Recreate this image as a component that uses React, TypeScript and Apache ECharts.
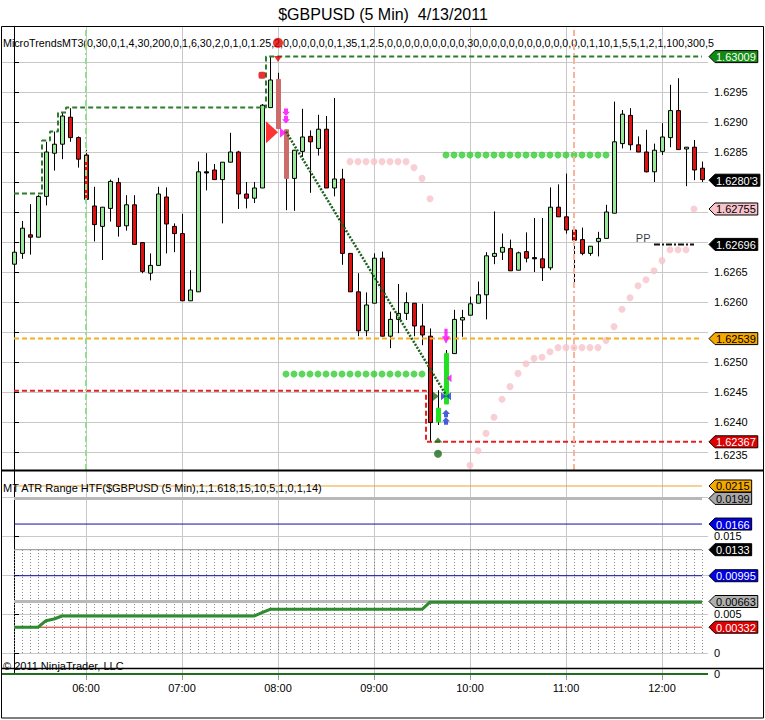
import React, { useEffect, useRef } from 'react';
import * as echarts from 'echarts';

const FONT = '"Liberation Sans", Arial, sans-serif';

// ---------- axis ticks / labels ----------
const hourTicks = [9, 21, 33, 45, 57, 69, 81];
const hourLabels = ['06:00', '07:00', '08:00', '09:00', '10:00', '11:00', '12:00'];
const priceTicks = [1.6235, 1.624, 1.6245, 1.625, 1.6255, 1.626, 1.6265, 1.627, 1.6275, 1.628, 1.6285, 1.629, 1.6295, 1.63];
const priceLabels = [1.6235, 1.624, 1.6245, 1.625, 1.626, 1.6265, 1.6285, 1.629, 1.6295];
const atrTicks = [0, 0.005, 0.01, 0.015, 0.02];
const atrLabels = [0, 0.005, 0.015];

// ---------- candles (5 min bars 05:15 .. 12:25) ----------
const opens = [
  1.62663, 1.62681, 1.62712, 1.62708, 1.62776, 1.62848, 1.62863, 1.62908, 1.62874, 1.62845,
  1.62760, 1.62726, 1.62756, 1.62799, 1.62727, 1.62762, 1.62699, 1.62648, 1.62661, 1.62775,
  1.62726, 1.62714, 1.62602, 1.62617, 1.62815, 1.62820, 1.62804, 1.62833, 1.62850, 1.62780,
  1.62773, 1.62790, 1.62924, 1.62971, 1.62887, 1.62806, 1.62851, 1.62876, 1.62856, 1.62888,
  1.62790, 1.62805, 1.62681, 1.62617, 1.62552, 1.62598, 1.62673, 1.62543, 1.62571, 1.62581,
  1.62598, 1.62560, 1.62543, 1.62400, 1.62430, 1.62514, 1.62570, 1.62578, 1.62598, 1.62612,
  1.62676, 1.62683, 1.62689, 1.62653, 1.62684, 1.62672, 1.62672, 1.62657, 1.62758, 1.62742,
  1.62720, 1.62704, 1.62681, 1.62701, 1.62706, 1.62748, 1.62864, 1.62911, 1.62862, 1.62850,
  1.62817, 1.62851, 1.62874, 1.62919, 1.62855, 1.62858, 1.62823,
];
const closes = [
  1.62683, 1.62723, 1.62708, 1.62776, 1.62850, 1.62863, 1.62910, 1.62874, 1.62838, 1.62771,
  1.62729, 1.62758, 1.62801, 1.62726, 1.62762, 1.62696, 1.62651, 1.62661, 1.62780, 1.62730,
  1.62714, 1.62602, 1.62620, 1.62817, 1.62817, 1.62804, 1.62833, 1.62850, 1.62780, 1.62773,
  1.62790, 1.62928, 1.62970, 1.62889, 1.62806, 1.62853, 1.62875, 1.62867, 1.62888, 1.62790,
  1.62805, 1.62681, 1.62617, 1.62552, 1.62595, 1.62673, 1.62543, 1.62571, 1.62581, 1.62599,
  1.62560, 1.62545, 1.62399, 1.62423, 1.62514, 1.62571, 1.62574, 1.62597, 1.62612, 1.62677,
  1.62681, 1.62691, 1.62652, 1.62682, 1.62673, 1.62674, 1.62657, 1.62758, 1.62742, 1.62720,
  1.62703, 1.62681, 1.62693, 1.62706, 1.62750, 1.62867, 1.62913, 1.62862, 1.62850, 1.62817,
  1.62853, 1.62875, 1.62919, 1.62854, 1.62858, 1.62820, 1.62804,
];
const lows = [
  1.62663, 1.62672, 1.62679, 1.62708, 1.62761, 1.62819, 1.62838, 1.62867, 1.62824, 1.62771,
  1.62701, 1.62670, 1.62734, 1.62709, 1.62719, 1.62696, 1.62648, 1.62636, 1.62661, 1.62681,
  1.62683, 1.62602, 1.62602, 1.62617, 1.62786, 1.62804, 1.62731, 1.62833, 1.62755, 1.62756,
  1.62765, 1.62790, 1.62924, 1.62889, 1.62753, 1.62752, 1.62842, 1.62782, 1.62844, 1.62790,
  1.62776, 1.62662, 1.62617, 1.62543, 1.62543, 1.62598, 1.62543, 1.62523, 1.62548, 1.62570,
  1.62543, 1.62528, 1.62367, 1.62395, 1.62430, 1.62514, 1.62542, 1.62578, 1.62598, 1.62571,
  1.62663, 1.62670, 1.62652, 1.62653, 1.62666, 1.62650, 1.62635, 1.62653, 1.62742, 1.62714,
  1.62627, 1.62678, 1.62677, 1.62676, 1.62706, 1.62748, 1.62856, 1.62853, 1.62850, 1.62816,
  1.62800, 1.62845, 1.62858, 1.62854, 1.62793, 1.62803, 1.62800,
];
const highs = [
  1.62690, 1.62735, 1.62763, 1.62778, 1.62867, 1.62884, 1.62916, 1.62923, 1.62876, 1.62853,
  1.62792, 1.62758, 1.62804, 1.62807, 1.62778, 1.62778, 1.62699, 1.62681, 1.62792, 1.62791,
  1.62731, 1.62747, 1.62653, 1.62834, 1.62848, 1.62830, 1.62833, 1.62882, 1.62852, 1.62800,
  1.62800, 1.62930, 1.63009, 1.62982, 1.62887, 1.62853, 1.62922, 1.62886, 1.62912, 1.62910,
  1.62940, 1.62822, 1.62681, 1.62648, 1.62616, 1.62681, 1.62684, 1.62584, 1.62630, 1.62616,
  1.62598, 1.62597, 1.62556, 1.62453, 1.62520, 1.62587, 1.62587, 1.62609, 1.62634, 1.62683,
  1.62751, 1.62714, 1.62704, 1.62684, 1.62716, 1.62740, 1.62740, 1.62791, 1.62796, 1.62814,
  1.62726, 1.62724, 1.62693, 1.62717, 1.62762, 1.62934, 1.62920, 1.62923, 1.62876, 1.62887,
  1.62864, 1.62898, 1.62962, 1.62973, 1.62858, 1.62870, 1.62834,
];

// ---------- MicroTrends overlays (per bar) ----------
const resistance = [
  1.62781, 1.62781, 1.62781, 1.62781, 1.62869, 1.62884, 1.62916, 1.62924, 1.62924, 1.62924,
  1.62924, 1.62924, 1.62924, 1.62924, 1.62924, 1.62924, 1.62924, 1.62924, 1.62924, 1.62924,
  1.62924, 1.62924, 1.62924, 1.62924, 1.62924, 1.62924, 1.62924, 1.62924, 1.62924, 1.62924,
  1.62924, 1.62924, 1.63009, 1.63009, 1.63009, 1.63009, 1.63009, 1.63009, 1.63009, 1.63009,
  1.63009, 1.63009, 1.63009, 1.63009, 1.63009, 1.63009, 1.63009, 1.63009, 1.63009, 1.63009,
  1.63009, 1.63009, 1.63009, 1.63009, 1.63009, 1.63009, 1.63009, 1.63009, 1.63009, 1.63009,
  1.63009, 1.63009, 1.63009, 1.63009, 1.63009, 1.63009, 1.63009, 1.63009, 1.63009, 1.63009,
  1.63009, 1.63009, 1.63009, 1.63009, 1.63009, 1.63009, 1.63009, 1.63009, 1.63009, 1.63009,
  1.63009, 1.63009, 1.63009, 1.63009, 1.63009, 1.63009, 1.63009,
];
const support = [
  1.62452, 1.62452, 1.62452, 1.62452, 1.62452, 1.62452, 1.62452, 1.62452, 1.62452, 1.62452,
  1.62452, 1.62452, 1.62452, 1.62452, 1.62452, 1.62452, 1.62452, 1.62452, 1.62452, 1.62452,
  1.62452, 1.62452, 1.62452, 1.62452, 1.62452, 1.62452, 1.62452, 1.62452, 1.62452, 1.62452,
  1.62452, 1.62452, 1.62452, 1.62452, 1.62452, 1.62452, 1.62452, 1.62452, 1.62452, 1.62452,
  1.62452, 1.62452, 1.62452, 1.62452, 1.62452, 1.62452, 1.62452, 1.62452, 1.62452, 1.62452,
  1.62452, 1.62452, 1.62367, 1.62367, 1.62367, 1.62367, 1.62367, 1.62367, 1.62367, 1.62367,
  1.62367, 1.62367, 1.62367, 1.62367, 1.62367, 1.62367, 1.62367, 1.62367, 1.62367, 1.62367,
  1.62367, 1.62367, 1.62367, 1.62367, 1.62367, 1.62367, 1.62367, 1.62367, 1.62367, 1.62367,
  1.62367, 1.62367, 1.62367, 1.62367, 1.62367, 1.62367, 1.62367,
];
const midLevel = 1.62539;
const trendBars = [34, 54];
const trendPrices = [1.62884, 1.62445];
const ppBars = [80, 85];
const ppLevel = 1.62696;
const ppText = 'PP';

const greenDotsAStart = 34;
const greenDotsA = [
  1.6248, 1.6248, 1.6248, 1.6248, 1.6248, 1.6248, 1.6248, 1.6248, 1.6248,
  1.6248, 1.6248, 1.6248, 1.6248, 1.6248, 1.6248, 1.6248, 1.6248, 1.6248,
];
const greenDotsBStart = 54;
const greenDotsB = [
  1.62845, 1.62845, 1.62845, 1.62845, 1.62845, 1.62845, 1.62845, 1.62845, 1.62845, 1.62845,
  1.62845, 1.62845, 1.62845, 1.62845, 1.62845, 1.62845, 1.62845, 1.62845, 1.62845, 1.62845,
  1.62845,
];
const stopHighStart = 42;
const stopHigh = [1.62834, 1.62834, 1.62834, 1.62834, 1.62834, 1.62834, 1.62834, 1.62834, 1.62824, 1.62806, 1.62772];
const stopLowStart = 57;
const stopLow = [
  1.62328, 1.62352, 1.62381, 1.62408, 1.62438, 1.62459, 1.62481, 1.62497, 1.62506, 1.62508,
  1.62517, 1.62524, 1.62524, 1.62524, 1.62524, 1.62524, 1.62524, 1.62536, 1.62559, 1.62588,
  1.62607, 1.62627, 1.62637, 1.62652, 1.62669, 1.62687, 1.62687, 1.62687, 1.62755,
];

const sessionLineBars = [9, 70];

const markerBars = [33, 33, 31, 32, 34, 34, 54, 54, 53, 54, 54, 53, 53];
const markerPrices = [1.63032, 1.63005, 1.62978, 1.62883, 1.6291, 1.62882, 1.62543, 1.62473, 1.62443, 1.62443, 1.62408, 1.6237, 1.62347];
const markerKinds = ['redDot', 'redDown', 'redSquare', 'redBigRight', 'magDblDown', 'magRight', 'magDown', 'magLeft', 'dgRight', 'blueTie', 'blueDblUp', 'dgUp', 'dgDot'];

// ---------- lower panel (MT ATR Range HTF) ----------
const atrLevelValues = [0.0215, 0.0199, 0.0166, 0.0133, 0.00995, 0.00663, 0.00332];
const atrBoxTop = 0.0133;
const atrValues = [
  0.00332, 0.00332, 0.00332, 0.00332, 0.00416, 0.00438, 0.00476, 0.00476, 0.00476, 0.00476,
  0.00476, 0.00476, 0.00476, 0.00476, 0.00476, 0.00476, 0.00476, 0.00476, 0.00476, 0.00476,
  0.00476, 0.00476, 0.00476, 0.00476, 0.00476, 0.00476, 0.00476, 0.00476, 0.00476, 0.00476,
  0.00476, 0.0052, 0.00562, 0.00562, 0.00562, 0.00562, 0.00562, 0.00562, 0.00562, 0.00562,
  0.00562, 0.00562, 0.00562, 0.00562, 0.00562, 0.00562, 0.00562, 0.00562, 0.00562, 0.00562,
  0.00562, 0.00562, 0.00655, 0.00655, 0.00655, 0.00655, 0.00655, 0.00655, 0.00655, 0.00655,
  0.00655, 0.00655, 0.00655, 0.00655, 0.00655, 0.00655, 0.00655, 0.00655, 0.00655, 0.00655,
  0.00655, 0.00655, 0.00655, 0.00655, 0.00655, 0.00655, 0.00655, 0.00655, 0.00655, 0.00655,
  0.00655, 0.00655, 0.00655, 0.00655, 0.00655, 0.00655, 0.00655,
];

const mainTagValues = [1.63009, 1.62803, 1.62755, 1.62696, 1.62539, 1.62367];
const mainTagTexts = ['1.63009', "1.6280'3", '1.62755', '1.62696', '1.62539', '1.62367'];
const atrTagTexts = ['0.0215', '0.0199', '0.0166', '0.0133', '0.00995', '0.00663', '0.00332'];

// ---------- styles ----------
const UP = '#98e898';
const DOWN = '#e01010';
const specialBarColors: Record<number, string> = { 33: '#cd6a6a', 34: '#cd6a6a', 53: '#22e022', 54: '#22e022' };
const mainTagStyles = [
  ['#128a12', '#fff'], ['#000', '#fff'], ['#f8c4cc', '#000'], ['#000', '#fff'], ['#f5a800', '#000'], ['#e00000', '#fff'],
];
const atrLevelStyles = [
  ['#f0a030', 1], ['#b8b8b8', 3], ['#1010a0', 1], ['#8c8c8c', 1], ['#1010a0', 1], ['#b8b8b8', 3], ['#d02020', 1],
];
const atrTagStyles = [
  ['#f5a800', '#000'], ['#a8a8a8', '#000'], ['#0000e0', '#fff'], ['#000', '#fff'], ['#0000e0', '#fff'], ['#b0b0b0', '#000'], ['#e00000', '#fff'],
];
const markerStyles: Record<string, any> = {
  redDot: { symbol: 'circle', symbolSize: 10, color: '#e00000' },
  redDown: { symbol: 'triangle', symbolSize: [8, 6], symbolRotate: 180, color: '#e00000' },
  redSquare: { symbol: 'roundRect', symbolSize: 7, color: '#e00000' },
  redBigRight: { symbol: 'triangle', symbolSize: [22, 12], symbolRotate: -90, symbolOffset: [2, 0], color: '#ff0000' },
  magDblDown: { symbol: 'path://M2,0H6V3H8L4,7L0,3H2Z M2,7H6V10H8L4,14L0,10H2Z', symbolSize: [8, 15], color: '#ff00ff' },
  magRight: { symbol: 'triangle', symbolSize: [10, 6], symbolRotate: -90, symbolOffset: [-3, 0], color: '#ff00ff' },
  magDown: { symbol: 'path://M3,0H7V7H10L5,14L0,7H3Z', symbolSize: [8, 15], color: '#ff00ff' },
  magLeft: { symbol: 'triangle', symbolSize: [8, 5], symbolRotate: 90, symbolOffset: [3, 0], color: '#ff00ff' },
  dgRight: { symbol: 'triangle', symbolSize: [9, 6], symbolRotate: -90, symbolOffset: [-2, 0], color: '#1a6b1a' },
  blueTie: { symbol: 'path://M0,0L5,4L0,8Z M10,0L5,4L10,8Z', symbolSize: [10, 8], color: '#1a3ad0' },
  blueDblUp: { symbol: 'path://M4,0L8,4H6V7H2V4H0Z M4,7L8,11H6V14H2V11H0Z', symbolSize: [8, 15], color: '#1a3ad0' },
  dgUp: { symbol: 'triangle', symbolSize: [9, 5], color: '#1a6b1a' },
  dgDot: { symbol: 'circle', symbolSize: 8, color: '#1a6b1a' },
};

const X_MIN = -1.5;
const X_MAX = 86.75;
const GRID_LINE = '#c8c8c8';

function textWidth(s: string) {
  let w = 0;
  for (const ch of s) w += ch === '.' ? 3.06 : ch === "'" ? 2.1 : 6.12;
  return w;
}

function makeTag(y: number, text: string, bg: string, fg: string) {
  const x0 = 709;
  const x1 = 715;
  const w = textWidth(text) + 3;
  return [
    {
      type: 'polygon',
      z: 50,
      shape: { points: [[x0, y], [x1, y - 6], [x1 + w, y - 6], [x1 + w, y + 6], [x1, y + 6]] },
      style: { fill: bg, stroke: '#000', lineWidth: 1 },
    },
    {
      type: 'text',
      z: 51,
      x: x1 + 1,
      y: y + 0.5,
      style: { text, fill: fg, font: `11px ${FONT}`, align: 'left', verticalAlign: 'middle' },
    },
  ];
}

export default function App() {
  const ref = useRef<HTMLDivElement>(null);

  useEffect(() => {
    if (!ref.current) return;
    const chart = echarts.init(ref.current, null, { renderer: 'svg' });

    const idx = opens.map((_, i) => i);
    const candleData = idx.map((i) => [i, opens[i], closes[i], lows[i], highs[i]]);

    const xAxisBase = (gridIndex: number) => ({
      type: 'value',
      gridIndex,
      min: X_MIN,
      max: X_MAX,
      axisLine: { show: false },
      axisTick: { show: false, customValues: hourTicks },
      axisLabel: { show: false },
      splitLine: { show: true, lineStyle: { color: GRID_LINE, width: 1 } },
    });

    const candleSeries = {
      type: 'custom',
      name: 'candles',
      xAxisIndex: 0,
      yAxisIndex: 0,
      z: 3,
      encode: { x: 0, y: [1, 2, 3, 4] },
      data: candleData,
      renderItem: (params: any, api: any) => {
        const i = api.value(0);
        const o = api.value(1);
        const c = api.value(2);
        const l = api.value(3);
        const h = api.value(4);
        const pHi = api.coord([i, h]);
        const pLo = api.coord([i, l]);
        const pTop = api.coord([i, Math.max(o, c)]);
        const pBot = api.coord([i, Math.min(o, c)]);
        const cx = Math.round(pHi[0]);
        const special = specialBarColors[i];
        const doji = Math.abs(c - o) < 0.000025;
        const fill = special || (doji ? '#000' : c >= o ? UP : DOWN);
        const stroke = special ? special : '#000';
        let top = pTop[1];
        let hgt = pBot[1] - pTop[1];
        if (hgt < 1) {
          top -= 0.5;
          hgt = 1;
        }
        return {
          type: 'group',
          children: [
            { type: 'line', shape: { x1: cx + 0.5, y1: pHi[1], x2: cx + 0.5, y2: pLo[1] }, style: { stroke: '#000', lineWidth: 1 } },
            { type: 'rect', shape: { x: cx - 1.5, y: top, width: 4, height: hgt }, style: { fill, stroke, lineWidth: 1 } },
          ],
        };
      },
    };

    const dotSeries = (start: number, vals: number[], color: string, z: number) => ({
      type: 'scatter',
      xAxisIndex: 0,
      yAxisIndex: 0,
      symbol: 'circle',
      symbolSize: 7,
      z,
      itemStyle: { color },
      data: vals.map((v, k) => [start + k, v]),
    });

    const markerData = markerBars.map((b, k) => {
      const s = markerStyles[markerKinds[k]];
      return {
        value: [b, markerPrices[k]],
        symbol: s.symbol,
        symbolSize: s.symbolSize,
        symbolRotate: s.symbolRotate || 0,
        symbolOffset: s.symbolOffset || [0, 0],
        itemStyle: { color: s.color },
      };
    });

    const atrLevelSeries = atrLevelValues.map((v, k) => ({
      type: 'line',
      xAxisIndex: 1,
      yAxisIndex: 1,
      symbol: 'none',
      z: 3,
      lineStyle: { color: atrLevelStyles[k][0], width: atrLevelStyles[k][1] },
      data: [[0, v], [idx.length - 1, v]],
    }));

    const option: any = {
      animation: false,
      backgroundColor: '#fff',
      textStyle: { fontFamily: FONT },
      grid: [
        { left: 2, right: 57, top: 27, height: 443 },
        { left: 2, right: 57, top: 471, height: 197 },
        { left: 2, right: 57, top: 668, height: 6 },
      ],
      xAxis: [
        xAxisBase(0),
        xAxisBase(1),
        {
          ...xAxisBase(2),
          axisTick: { show: true, customValues: hourTicks, length: 6, lineStyle: { color: '#999' } },
          axisLabel: {
            show: true,
            customValues: hourTicks,
            margin: 8,
            fontSize: 11,
            color: '#000',
            fontFamily: FONT,
            formatter: (v: number) => hourLabels[hourTicks.indexOf(Math.round(v))] || '',
          },
        },
      ],
      yAxis: [
        {
          type: 'value',
          gridIndex: 0,
          position: 'right',
          min: 1.6232,
          max: 1.6305833,
          axisLine: { show: true, lineStyle: { color: '#000', width: 1 } },
          axisTick: { show: true, length: 5, customValues: priceTicks, lineStyle: { color: '#000' } },
          axisLabel: {
            show: true,
            customValues: priceLabels,
            margin: 6,
            fontSize: 11,
            color: '#000',
            fontFamily: FONT,
            formatter: (v: number) => (v < priceLabels[1] ? `{low|${v.toFixed(4)}}` : v.toFixed(4)),
            rich: { low: { fontSize: 11, color: '#000', fontFamily: FONT, padding: [7, 0, 0, 0] } },
          },
          splitLine: { show: true, lineStyle: { color: GRID_LINE, width: 1 } },
        },
        {
          type: 'value',
          gridIndex: 1,
          position: 'right',
          min: -0.00193,
          max: 0.02343,
          axisLine: { show: true, lineStyle: { color: '#000', width: 1 } },
          axisTick: { show: true, length: 5, customValues: atrTicks, lineStyle: { color: '#000' } },
          axisLabel: {
            show: true,
            customValues: atrLabels,
            margin: 6,
            fontSize: 11,
            color: '#000',
            fontFamily: FONT,
            formatter: (v: number) => (Math.abs(v) < 1e-9 ? '0' : String(+v.toFixed(3))),
          },
          splitLine: { show: true, lineStyle: { color: GRID_LINE, width: 1 } },
        },
        {
          type: 'value',
          gridIndex: 2,
          position: 'right',
          min: 0,
          max: 1,
          axisLine: { show: true, lineStyle: { color: '#000', width: 1 } },
          axisTick: { show: true, length: 5, customValues: [0], lineStyle: { color: '#000' } },
          axisLabel: { show: true, customValues: [0], margin: 6, fontSize: 11, color: '#000', fontFamily: FONT, formatter: () => '0' },
          splitLine: { show: false },
        },
      ],
      series: [
        {
          type: 'line',
          xAxisIndex: 0,
          yAxisIndex: 0,
          symbol: 'none',
          z: 1,
          data: [],
          markLine: {
            silent: true,
            symbol: 'none',
            label: { show: false },
            data: sessionLineBars.map((b, k) => ({
              xAxis: b,
              lineStyle: { color: k === 0 ? '#8fe08f' : '#f8b49c', width: 2, type: [6, 3, 2, 3] },
            })),
          },
        },
        dotSeries(stopHighStart, stopHigh, '#f8c3cc', 2),
        dotSeries(stopLowStart, stopLow, '#f8c3cc', 2),
        candleSeries,
        dotSeries(greenDotsAStart, greenDotsA, '#33cc33', 4),
        dotSeries(greenDotsBStart, greenDotsB, '#33cc33', 4),
        {
          type: 'line',
          xAxisIndex: 0,
          yAxisIndex: 0,
          symbol: 'none',
          step: 'middle',
          z: 4,
          lineStyle: { color: '#2b7d2b', width: 2, type: [5, 3] },
          data: resistance.map((v, i) => [i, v]),
        },
        {
          type: 'line',
          xAxisIndex: 0,
          yAxisIndex: 0,
          symbol: 'none',
          step: 'middle',
          z: 4,
          lineStyle: { color: '#e82020', width: 2, type: [5, 3] },
          data: support.map((v, i) => [i, v]),
        },
        {
          type: 'line',
          xAxisIndex: 0,
          yAxisIndex: 0,
          symbol: 'none',
          z: 4,
          lineStyle: { color: '#f5b020', width: 2, type: [5, 3] },
          data: [[0, midLevel], [idx.length - 1, midLevel]],
        },
        {
          type: 'line',
          xAxisIndex: 0,
          yAxisIndex: 0,
          symbol: 'none',
          z: 5,
          lineStyle: { color: '#1b5e1b', width: 2.5, type: [2, 1.5] },
          data: trendBars.map((b, k) => [b, trendPrices[k]]),
        },
        {
          type: 'line',
          xAxisIndex: 0,
          yAxisIndex: 0,
          symbol: 'none',
          z: 5,
          lineStyle: { color: '#111', width: 2, type: [6, 2, 2, 2] },
          data: ppBars.map((b) => [b, ppLevel]),
        },
        {
          type: 'scatter',
          xAxisIndex: 0,
          yAxisIndex: 0,
          symbol: 'circle',
          symbolSize: 1,
          z: 5,
          itemStyle: { color: 'rgba(0,0,0,0)' },
          label: {
            show: true,
            formatter: ppText,
            position: 'left',
            distance: 3,
            offset: [0, -6],
            fontSize: 11,
            color: '#000',
            fontFamily: FONT,
          },
          data: [[ppBars[0], ppLevel]],
        },
        {
          type: 'scatter',
          xAxisIndex: 0,
          yAxisIndex: 0,
          z: 6,
          data: markerData,
        },
        {
          type: 'custom',
          xAxisIndex: 1,
          yAxisIndex: 1,
          z: 2,
          data: idx.map((i) => [i, atrBoxTop]),
          renderItem: (params: any, api: any) => {
            const i = api.value(0);
            const p0 = api.coord([i, 0]);
            const p1 = api.coord([i, api.value(1)]);
            const x = Math.round(p0[0]) + 0.5;
            return {
              type: 'line',
              shape: { x1: x, y1: p0[1], x2: x, y2: p1[1] },
              style: { stroke: '#8a8a8a', lineWidth: 1, lineDash: [1, 2] },
            };
          },
        },
        ...atrLevelSeries,
        {
          type: 'line',
          xAxisIndex: 1,
          yAxisIndex: 1,
          symbol: 'none',
          z: 5,
          lineStyle: { color: '#2e8b2e', width: 3 },
          data: atrValues.map((v, i) => [i, v]),
        },
        {
          type: 'line',
          xAxisIndex: 2,
          yAxisIndex: 2,
          symbol: 'none',
          lineStyle: { width: 0, opacity: 0 },
          data: [[0, 0], [idx.length - 1, 0]],
          markLine: {
            silent: true,
            symbol: 'none',
            label: { show: false },
            data: [{ yAxis: 0, lineStyle: { color: '#1e6e1e', width: 2, type: 'solid' } }],
          },
        },
      ],
    };

    chart.setOption(option);

    const tags: any[] = [];
    mainTagValues.forEach((v, k) => {
      const y = chart.convertToPixel({ yAxisIndex: 0 } as any, v) as number;
      tags.push(...makeTag(y, mainTagTexts[k], mainTagStyles[k][0], mainTagStyles[k][1]));
    });
    atrLevelValues.forEach((v, k) => {
      const y = chart.convertToPixel({ yAxisIndex: 1 } as any, v) as number;
      tags.push(...makeTag(y, atrTagTexts[k], atrTagStyles[k][0] as string, atrTagStyles[k][1] as string));
    });

    const staticGraphics: any[] = [
      {
        type: 'text',
        x: 383,
        y: 14,
        z: 60,
        style: { text: '$GBPUSD (5 Min)  4/13/2011', font: `16px ${FONT}`, fill: '#000', align: 'center', verticalAlign: 'middle' },
      },
      {
        type: 'text',
        x: 3,
        y: 43,
        z: 1,
        style: {
          text: 'MicroTrendsMT3(0,30,0,1,4,30,200,0,1,6,30,2,0,1,0,1.25,2,0,0,0,0,0,0,1,35,1,2.5,0,0,0,0,0,0,0,0,0,30,0,0,0,0,0,0,0,0,0,0,0,0,1,10,1,5,5,1,2,1,100,300,5',
          font: `10.7px ${FONT}`,
          fill: '#000',
          align: 'left',
          verticalAlign: 'middle',
          width: 714,
          overflow: 'truncate',
          ellipsis: '',
        },
      },
      {
        type: 'text',
        x: 3,
        y: 488,
        z: 60,
        style: { text: 'MT ATR Range HTF($GBPUSD (5 Min),1,1.618,15,10,5,1,0,1,14)', font: `11px ${FONT}`, fill: '#000', align: 'left', verticalAlign: 'middle' },
      },
      {
        type: 'text',
        x: 3,
        y: 666,
        z: 60,
        style: { text: '© 2011 NinjaTrader, LLC', font: `11px ${FONT}`, fill: '#000', align: 'left', verticalAlign: 'middle' },
      },
      {
        type: 'rect',
        z: 70,
        shape: { x: 1.5, y: 26.5, width: 762, height: 691.5 },
        style: { fill: 'none', stroke: '#000', lineWidth: 1 },
      },
      { type: 'line', z: 70, shape: { x1: 1, y1: 470.5, x2: 764, y2: 470.5 }, style: { stroke: '#000', lineWidth: 2 } },
      { type: 'line', z: 70, shape: { x1: 1, y1: 668.5, x2: 764, y2: 668.5 }, style: { stroke: '#000', lineWidth: 1.5 } },
    ];

    chart.setOption({ graphic: [...staticGraphics, ...tags] });

    return () => chart.dispose();
  }, []);

  return <div ref={ref} style={{ position: 'absolute', left: 0, top: 0, width: 765, height: 720 }} />;
}
